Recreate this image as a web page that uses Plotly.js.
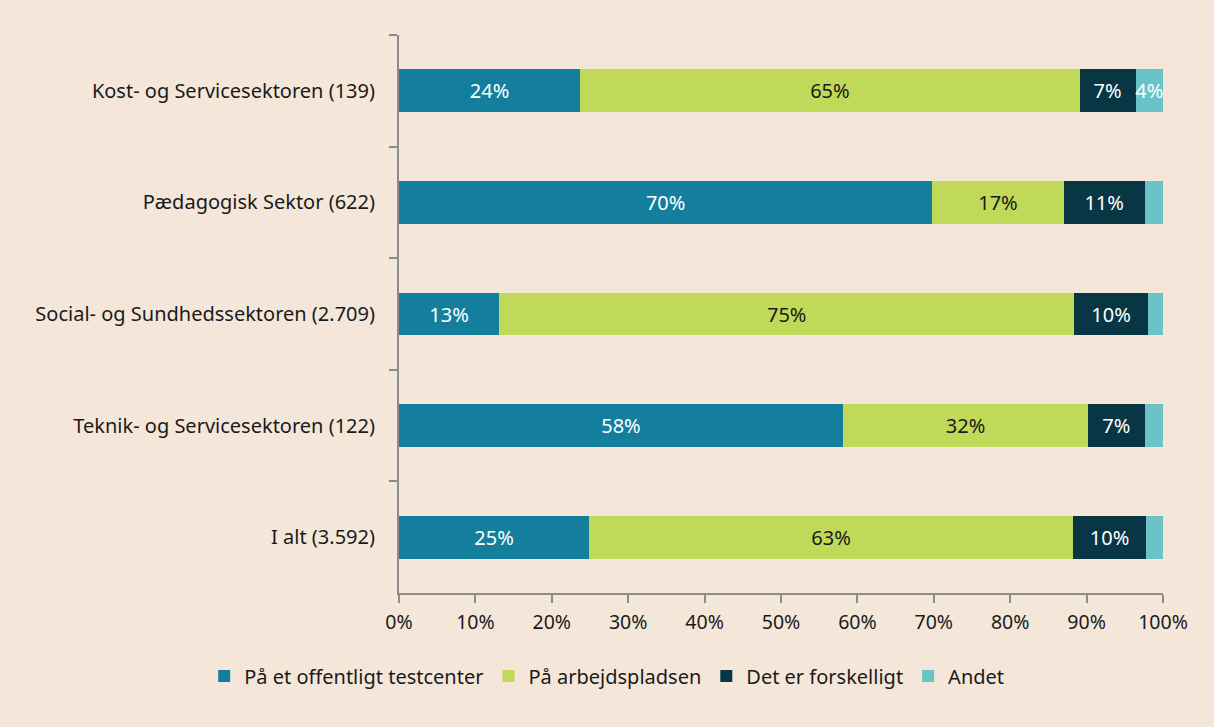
<!DOCTYPE html>
<html>
<head>
<meta charset="utf-8">
<script src="https://cdn.plot.ly/plotly-3.0.1.min.js"></script>
<style>html,body{margin:0;padding:0;background:#f4e7da;}#chart{width:1214px;height:727px;}</style>
</head>
<body>
<div id="chart"></div>
<script>
const categories = ["Kost- og Servicesektoren (139)", "Pædagogisk Sektor (622)", "Social- og Sundhedssektoren (2.709)", "Teknik- og Servicesektoren (122)", "I alt (3.592)"];
const testcenter = [23.7, 69.8, 13.1, 58.1, 24.9];
const arbejdspladsen = [65.4, 17.2, 75.3, 32.1, 63.3];
const forskelligt = [7.3, 10.6, 9.6, 7.4, 9.6];
const andet = [3.6, 2.4, 2.0, 2.4, 2.2];
const seriesNames = ["På et offentligt testcenter", "På arbejdspladsen", "Det er forskelligt", "Andet"];
const xTickLabels = ["0%","10%","20%","30%","40%","50%","60%","70%","80%","90%","100%"];
const xTickVals = [0,10,20,30,40,50,60,70,80,90,100];

const colors = ["#137f9c", "#c0d958", "#083644", "#69c3c8"];
const textColors = ["#ffffff", "#1a1a1a", "#ffffff", "#ffffff"];
const data = [testcenter, arbejdspladsen, forskelligt, andet];
const font = "Noto Sans, Open Sans, sans-serif";

const traces = data.map((vals, i) => ({
  type: "bar",
  orientation: "h",
  name: seriesNames[i],
  y: categories,
  x: vals,
  text: vals.map(v => v >= 3 ? Math.round(v) + "%" : ""),
  textposition: "inside",
  insidetextanchor: "middle",
  textangle: 0,
  textfont: {color: textColors[i], size: 20, family: font},
  marker: {color: colors[i]},
  hoverinfo: "none",
  cliponaxis: false
}));

const layout = {
  width: 1214, height: 727,
  paper_bgcolor: "#f4e7da",
  plot_bgcolor: "#f4e7da",
  barmode: "stack",
  bargap: 0.615,
  font: {family: font, size: 20, color: "#1a1a1a"},
  margin: {l: 399, r: 51, t: 35, b: 134},
  showlegend: true,
  uniformtext: {minsize: 20, mode: "show"},
  legend: {orientation: "h", x: -0.255, xanchor: "left",
           y: -0.114, yanchor: "top",
           font: {size: 20, family: font, color: "#1a1a1a"}, traceorder: "normal"},
  xaxis: {
    range: [0, 100], tickvals: xTickVals, ticktext: xTickLabels,
    showgrid: false, zeroline: false, showline: true, linecolor: "#8c8c8c", linewidth: 2,
    ticks: "outside", ticklen: 8, tickcolor: "#8c8c8c", tickwidth: 2,
    ticklabelstandoff: 3, tickfont: {size: 19.5}, fixedrange: true
  },
  yaxis: {
    type: "category", autorange: "reversed",
    categoryorder: "array", categoryarray: categories,
    showgrid: false, zeroline: false, showline: true, linecolor: "#8c8c8c", linewidth: 2,
    ticks: "outside", ticklen: 8, tickcolor: "#8c8c8c", tickwidth: 2, tickson: "boundaries",
    ticklabelstandoff: 18, tickfont: {size: 20}, fixedrange: true
  }
};

Plotly.newPlot("chart", traces, layout, {displayModeBar: false, staticPlot: true});
</script>
</body>
</html>
